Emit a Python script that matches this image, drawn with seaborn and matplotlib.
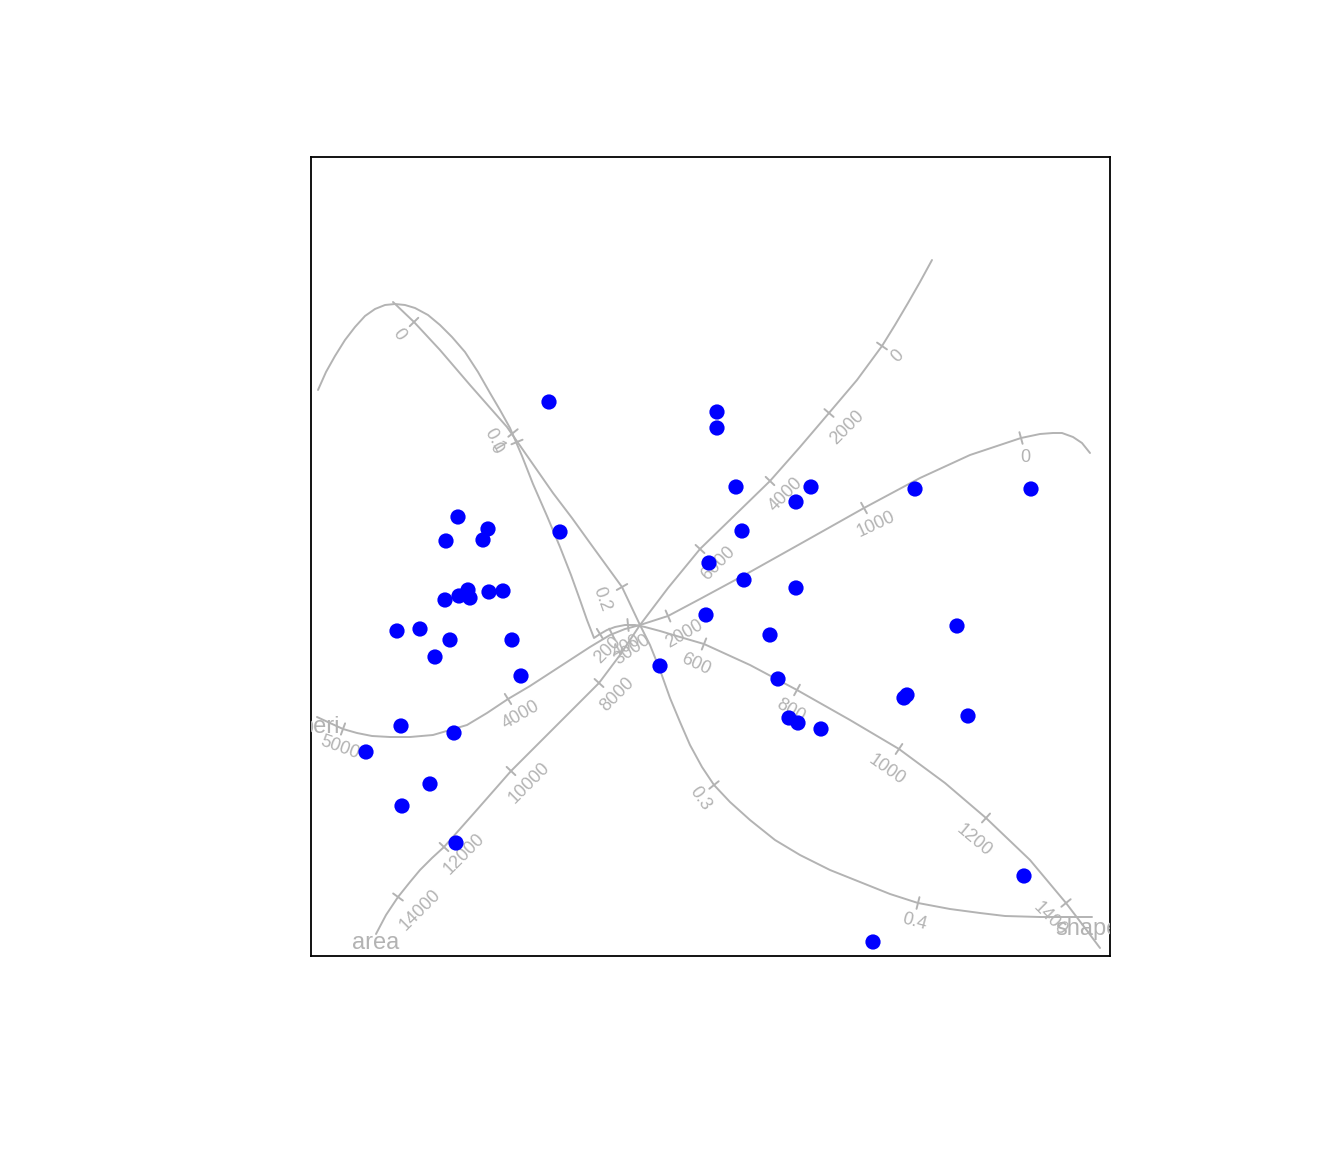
import numpy as np
import pandas as pd
import matplotlib
matplotlib.use("Agg")
import matplotlib.pyplot as plt
import seaborn as sns

# точки (в пикселях картинки: x вправо, y вниз)
pts_x = [549, 717, 717, 736, 811, 796, 915, 1031, 742, 560, 458, 488, 446, 483, 709, 744,
         796, 468, 459, 470, 445, 489, 503, 706, 397, 420, 450, 512, 770, 957, 435, 660,
         521, 778, 907, 904, 968, 789, 798, 821, 401, 454, 366, 430, 402, 456, 1024, 873]
pts_y = [402, 412, 428, 487, 487, 502, 489, 489, 531, 532, 517, 529, 541, 540, 563, 580,
         588, 590, 596, 598, 600, 592, 591, 615, 631, 629, 640, 640, 635, 626, 657, 666,
         676, 679, 695, 698, 716, 718, 723, 729, 726, 733, 752, 784, 806, 843, 876, 942]

# кривые осей
area_x = [376, 386, 398, 410, 420, 432, 444, 475, 511, 555, 599, 620, 640, 668, 700, 735, 770, 800, 829,
          857, 882, 895, 908, 920, 932]
area_y = [934, 915, 897, 882, 870, 858, 847, 812, 771, 727, 683, 655, 625, 588, 549, 515, 481, 447, 413,
          380, 346, 325, 303, 282, 260]
area_ticks = ["14000", "12000", "10000", "8000", "6000", "4000", "2000", "0"]
area_tick_x = [398, 444, 511, 599, 700, 770, 829, 882]
area_tick_y = [897, 847, 771, 683, 549, 481, 413, 346]

peri_x = [317, 330, 343, 357, 372, 390, 410, 433, 450, 467, 487, 508, 530, 550, 570, 590, 610, 625, 640,
          668, 700, 750, 800, 864, 920, 970, 1000, 1021, 1040, 1053, 1062, 1073, 1082, 1090]
peri_y = [717, 723, 729, 733, 736, 737, 737, 735, 730, 725, 713, 699, 686, 673, 660, 647, 635, 629, 625,
          616, 599, 572, 544, 508, 478, 455, 445, 438, 434, 433, 433, 437, 443, 453]
peri_ticks = ["5000", "4000", "3000", "2000", "1000", "0"]
peri_tick_x = [343, 508, 612, 668, 864, 1021]
peri_tick_y = [729, 699, 634, 616, 508, 438]

shape_x = [393, 414, 440, 470, 507, 530, 553, 572, 590, 606, 622, 640, 650, 660, 670, 680, 690, 702, 714,
           730, 750, 775, 800, 830, 860, 890, 918, 950, 980, 1005, 1040, 1092]
shape_y = [302, 322, 350, 385, 427, 460, 493, 518, 543, 565, 587, 625, 645, 670, 698, 722, 745, 767, 785,
           802, 820, 840, 855, 870, 882, 894, 903, 909, 913, 916, 917, 917]
shape_ticks = ["0", "0.1", "0.2", "0.3", "0.4"]
shape_tick_x = [414, 513, 622, 714, 918]
shape_tick_y = [322, 433, 587, 785, 903]

perm_x = [318, 326, 335, 345, 355, 365, 375, 385, 395, 405, 415, 428, 440, 452, 465, 478, 490, 500, 510,
          522, 533, 547, 560, 571, 580, 587, 594, 600, 607, 615, 625, 635, 645, 660, 680, 704, 750, 797,
          850, 899, 945, 986, 1030, 1066, 1085, 1100]
perm_y = [390, 372, 356, 340, 327, 316, 309, 305, 304, 305, 308, 315, 325, 337, 352, 372, 393, 410, 428,
          456, 484, 516, 547, 575, 600, 620, 638, 634, 630, 627, 625, 625, 627, 631, 637, 644, 665, 690,
          720, 749, 783, 818, 860, 903, 928, 948]
perm_ticks = ["0", "200", "400", "600", "800", "1000", "1200", "1400"]
perm_tick_x = [517, 600, 628, 704, 797, 899, 986, 1066]
perm_tick_y = [442, 634, 625, 644, 690, 749, 818, 903]

GRAY = "#B3B3B3"


def to_data(x, y):
    return np.array(x, float) - 311, 956 - np.array(y, float)


sns.set_style("white")
plt.rcParams['font.family'] = ['Liberation Sans', 'DejaVu Sans']

fig = plt.figure(figsize=(13.44, 11.52), dpi=100)
ax = fig.add_axes([311 / 1344, 1 - 956 / 1152, 799 / 1344, 799 / 1152])

curves = [
    (area_x, area_y, area_ticks, area_tick_x, area_tick_y,
     [(22, 13, 45), (20, 7, 45), (18, 12, 45), (18, 12, 45), (18, 14, 45), (16, 14, 45), (18, 15, 45), (16, 10, 45)]),
    (peri_x, peri_y, peri_ticks, peri_tick_x, peri_tick_y,
     [(-3, 19, -20), (13, 16, 30), (20, 16, 35), (16, 18, 30), (12, 16, 25), (4, 20, 0)]),
    (shape_x, shape_y, shape_ticks, shape_tick_x, shape_tick_y,
     [(-15, 13, -55), (-19, 8, -60), (-20, 12, -70), (-14, 14, -55), (-4, 19, -15)]),
    (perm_x, perm_y, perm_ticks, perm_tick_x, perm_tick_y,
     [(-21, 6, -60), (8, 16, 45), (-2, 22, 30), (-8, 20, -25), (-6, 21, -30), (-12, 21, -35), (-12, 22, -40), (-16, 16, -45)]),
]

for cx, cy, labs, tx, ty, offs in curves:
    dx, dy = to_data(cx, cy)
    sns.lineplot(x=dx, y=dy, sort=False, estimator=None, color=GRAY, lw=1.4, ax=ax)
    tdx, tdy = to_data(tx, ty)
    for lab, px, py, (ox, oy, rot) in zip(labs, tdx, tdy, offs):
        # направление касательной по ближайшим точкам кривой
        i = int(np.argmin((dx - px) ** 2 + (dy - py) ** 2))
        j0, j1 = max(i - 1, 0), min(i + 1, len(dx) - 1)
        t = np.array([dx[j1] - dx[j0], dy[j1] - dy[j0]])
        t = t / np.hypot(*t)
        n = np.array([-t[1], t[0]]) * 6
        ax.plot([px - n[0], px + n[0]], [py - n[1], py + n[1]], color=GRAY, lw=1.4)
        ax.text(px + ox, py - oy, lab, color=GRAY, fontsize=13, rotation=rot,
                ha="center", va="center", rotation_mode="anchor")

ax.text(376 - 311, 956 - 943, "area", color=GRAY, fontsize=17, ha="center", va="center")
ax.text(320 - 311, 956 - 727, "peri", color=GRAY, fontsize=17, ha="center", va="center", clip_on=True)
ax.text(1088 - 311, 956 - 929, "shape", color=GRAY, fontsize=17, ha="center", va="center", clip_on=True)

px, py = to_data(pts_x, pts_y)
df = pd.DataFrame({"x": px, "y": py})
sns.scatterplot(data=df, x="x", y="y", color="#0000FF", s=120, edgecolor="none", ax=ax, zorder=3)

ax.set_xlim(0, 799)
ax.set_ylim(0, 799)
ax.set_xticks([])
ax.set_yticks([])
ax.set_xlabel("")
ax.set_ylabel("")
for sp in ax.spines.values():
    sp.set_visible(True)
    sp.set_color("black")
    sp.set_linewidth(1.3)

fig.savefig("out.png", dpi=100)
